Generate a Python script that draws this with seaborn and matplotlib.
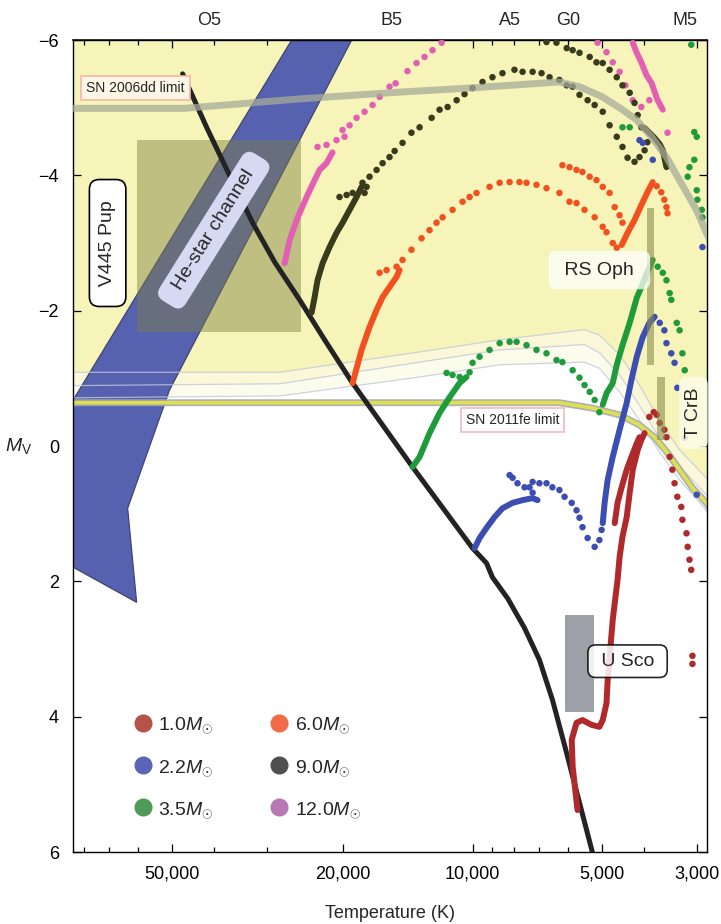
import numpy as np
import pandas as pd
import matplotlib
matplotlib.use('Agg')
import matplotlib.pyplot as plt
import seaborn as sns
from matplotlib.lines import Line2D
from matplotlib.ticker import NullFormatter, NullLocator

# ============================================================================
# DATA (temperature in K, absolute V magnitude)
# ============================================================================

# main sequence
ms_T = [47250, 41550, 36750, 32480, 28870, 25250, 22090, 19110, 13790, 10000, 9280, 8990, 8290,
        7570, 6990, 6520, 6110, 5700, 5260]
ms_M = [-5.50, -4.71, -4.00, -3.30, -2.72, -2.16, -1.57, -0.95, 0.31, 1.51, 1.73, 1.94, 2.25,
        2.69, 3.16, 3.75, 4.42, 5.16, 6.01]

# He-star channel outline
chan_T = [23600, 17390, 50660, 63420, 60440, 95000, 95000]
chan_M = [-6.5, -6.5, -0.83, 0.92, 2.31, 1.62, -0.17]

# SN limits
sn06_T = [95000, 46800, 25200, 14790, 10160, 6280, 5640, 4990, 4480, 4155, 3837, 3540, 3302, 3015, 2858, 2700]
sn06_M = [-4.99, -4.99, -5.13, -5.23, -5.29, -5.38, -5.31, -5.16, -4.97, -4.82, -4.57, -4.27, -3.93, -3.49, -3.15, -2.80]
sn11_T = [95000, 14790, 6280, 5260, 4550, 4090, 3775, 3520, 3300, 3080, 2860, 2700]
sn11_M = [-0.64, -0.64, -0.64, -0.56, -0.46, -0.31, -0.13, 0.10, 0.35, 0.62, 0.84, 1.05]

# faint detection bands
band_T = [95000, 28100, 13280, 8650, 5500, 5070, 4550, 4090, 3675, 3300, 2860, 2700]
band_L1 = [-1.09, -1.09, -1.39, -1.57, -1.72, -1.64, -1.35, -0.90, -0.38, 0.06, 0.47, 0.65]
band_L2 = [-0.89, -0.92, -1.24, -1.42, -1.50, -1.38, -1.05, -0.60, -0.12, 0.30, 0.72, 0.90]
band_L3 = [-0.71, -0.74, -1.02, -1.20, -1.24, -1.15, -0.80, -0.38, 0.09, 0.50, 0.95, 1.15]

# observed systems (T range, M range)
v445_T = [60400, 25000]
v445_M = [-4.52, -1.68]
rsoph_T = [3935, 3775]
rsoph_M = [-3.52, -1.20]
tcrb_T = [3715, 3560]
tcrb_M = [-1.02, -0.09]
usco_T = [6080, 5230]
usco_M = [2.50, 3.93]

# 12.0 Msun
m12_line1_T = [27360, 26640, 25660, 24320, 23300, 22690, 21860, 21170]
m12_line1_M = [-2.70, -3.04, -3.34, -3.68, -3.93, -4.08, -4.18, -4.34]
m12_line2_T = [4240, 4150, 4050, 3940, 3830, 3770, 3710, 3610]
m12_line2_M = [-5.96, -5.81, -5.67, -5.48, -5.36, -5.23, -5.11, -4.97]
m12_dots_T = [22940, 21860, 20720, 19850, 20060, 19320, 18610, 17830, 17080, 16450, 15600, 15100, 14170,
              13500, 12930, 12390, 11800, 5120, 4880, 4720, 4550, 4410, 4240, 4050, 3880, 3520]
m12_dots_M = [-4.42, -4.45, -4.52, -4.57, -4.67, -4.74, -4.85, -4.94, -5.04, -5.16, -5.31, -5.36, -5.54,
              -5.66, -5.75, -5.85, -5.96, -5.96, -5.82, -5.67, -5.53, -5.33, -5.11, -5.01, -5.11, -4.63]

# 9.0 Msun
m9_line1_T = [23680, 23300, 22940, 22330, 21510, 20720, 20060, 19320, 18610, 18120]
m9_line1_M = [-1.97, -2.20, -2.45, -2.70, -2.94, -3.15, -3.30, -3.49, -3.68, -3.83]
m9_line2_T = [3980, 3880, 3770, 3670, 3610, 3540]
m9_line2_M = [-4.70, -4.63, -4.55, -4.46, -4.37, -4.12]
m9_dots_T = [20390, 19630, 19010, 17830, 17640, 18030,
             17360, 16720, 16190, 15600, 15180, 14550, 13870, 13280, 12450, 11930, 11430, 10890, 10440, 10000,
             9480, 8990, 8520, 7990, 7650, 7250, 6910, 6620, 6280, 6040, 5850, 5640, 5400, 5200, 4980, 4800,
             4620, 4480, 4360, 4200, 4090, 3980, 3920,
             6730, 6380, 6040, 5850, 5640, 5340, 5150, 4980, 4800, 4620, 4480, 4310, 4200, 4130, 4050]
m9_dots_M = [-3.68, -3.71, -3.74, -3.74, -3.83, -3.89,
             -3.98, -4.08, -4.18, -4.27, -4.36, -4.48, -4.63, -4.71, -4.85, -4.97, -5.01, -5.11, -5.20, -5.29,
             -5.38, -5.45, -5.51, -5.56, -5.53, -5.53, -5.51, -5.45, -5.41, -5.33, -5.31, -5.19, -5.11, -5.04, -4.94, -4.74,
             -4.57, -4.42, -4.26, -4.20, -4.27, -4.37, -4.49,
             -5.97, -5.96, -5.88, -5.85, -5.81, -5.75, -5.67, -5.66, -5.56, -5.45, -5.33, -5.22, -5.07, -4.89, -4.71]

# 6.0 Msun
m6_line1_T = [19010, 18120, 17360, 16720, 16190, 15600, 15020, 14780]
m6_line1_M = [-0.93, -1.42, -1.76, -2.01, -2.20, -2.35, -2.50, -2.60]
m6_line2_T = [4500, 4360, 4200, 4050, 3920, 3810]
m6_line2_M = [-2.97, -3.15, -3.34, -3.56, -3.75, -3.90]
m6_dots_T = [16450, 15850, 15020, 14550,
             13870, 13140, 12590, 12130, 11740, 11130, 10550, 10160, 9790, 9130, 8650, 8200, 7780, 7490, 7100,
             6730, 6280, 5950, 5730, 5490, 5200, 4980, 4880, 4720, 4620,
             6180, 5950, 5730, 5550, 5340, 5150, 4980, 4800, 4670, 4550, 4480,
             3730, 3640, 3580, 3540, 3520]
m6_dots_M = [-2.56, -2.60, -2.65, -2.75,
             -2.90, -3.07, -3.19, -3.30, -3.38, -3.49, -3.61, -3.68, -3.74, -3.83, -3.89, -3.90, -3.90, -3.89, -3.86,
             -3.81, -3.74, -3.61, -3.59, -3.49, -3.38, -3.24, -3.16, -3.00, -2.93,
             -4.15, -4.12, -4.08, -4.05, -3.98, -3.93, -3.83, -3.74, -3.53, -3.41, -3.30,
             -3.84, -3.75, -3.64, -3.53, -3.44]

# 3.5 Msun
m35_line1_T = [13790, 13280, 12590, 11930, 11310, 10720, 10330]
m35_line1_M = [0.31, 0.16, -0.19, -0.49, -0.72, -0.93, -1.02]
m35_line2_T = [4980, 4880, 4720, 4620, 4480, 4310, 4150, 4050, 3920, 3810]
m35_line2_M = [-0.61, -0.78, -0.93, -1.20, -1.49, -1.82, -2.19, -2.35, -2.57, -2.75]
m35_dots_T = [11490, 11130, 10720, 10160,
              10000, 9630, 9130, 8650, 8200, 7900, 7490, 7100, 6730, 6380, 6180, 5850, 5640, 5490, 5340, 5200, 5070,
              3710, 3610, 3540, 3480, 3450, 3350, 3300, 3250, 3210,
              4480, 4310, 3100, 3050, 3010, 3130, 3050, 3160, 3010, 3000, 2930, 2920]
m35_dots_M = [-1.08, -1.05, -1.02, -1.09,
              -1.23, -1.32, -1.42, -1.52, -1.54, -1.54, -1.49, -1.42, -1.37, -1.27, -1.24, -1.12, -1.01, -0.90, -0.80, -0.68, -0.50,
              -2.65, -2.56, -2.45, -2.26, -2.16, -1.82, -1.71, -1.37, -1.12,
              -4.71, -4.71, -5.93, -4.64, -4.57, -4.12, -4.23, -3.98, -3.78, -3.64, -3.49, -3.38]

# 2.2 Msun
m22_line1_T = [9890, 9630, 9280, 8890, 8520, 8070, 7650, 7250, 7060]
m22_line1_M = [1.51, 1.36, 1.21, 1.05, 0.92, 0.84, 0.80, 0.77, 0.80]
m22_line2_T = [4980, 4930, 4850, 4720, 4550, 4380, 4270, 4150, 4020, 3880, 3770]
m22_line2_M = [1.14, 0.84, 0.50, 0.16, -0.24, -0.64, -0.98, -1.32, -1.61, -1.82, -1.91]
m22_dots_T = [7250, 7370, 7570, 7860, 8070, 8200,
              7250, 6990, 6730, 6520, 6280, 6110, 5880, 5730, 5640, 5550, 5400, 5200, 5070, 5010,
              3670, 3580, 3540, 3450, 3390,
              4090, 4020, 3810, 2920, 3340, 3210, 3010]
m22_dots_M = [0.69, 0.61, 0.61, 0.55, 0.47, 0.43,
              0.53, 0.55, 0.55, 0.61, 0.65, 0.75, 0.84, 0.95, 1.06, 1.20, 1.36, 1.49, 1.39, 1.24,
              -1.82, -1.71, -1.52, -1.37, -1.23,
              -4.52, -4.48, -4.23, -2.94, -0.86, -0.12, 0.72]

# 1.0 Msun
m10_line1_T = [5700, 5850, 5880, 5730, 5550, 5290, 5070, 4980, 4880, 4850, 4800, 4720, 4645, 4600, 4550,
               4480, 4380, 4310, 4240, 4130, 4050, 3980]
m10_line1_M = [5.38, 4.74, 4.34, 4.09, 4.05, 4.12, 4.15, 4.05, 3.80, 3.46, 3.12, 2.57, 2.20, 1.98, 1.64,
               1.34, 1.05, 0.69, 0.35, 0.06, -0.09, -0.19]
m10_line2_T = [4670, 4600, 4500, 4380, 4270, 4150, 4090]
m10_line2_M = [1.14, 0.84, 0.61, 0.35, 0.16, -0.04, -0.13]
m10_dots_T = [3880, 3790, 3730, 3670, 3580,
              3540, 3480, 3430, 3390, 3340, 3270, 3250, 3180, 3160, 3130, 3100,
              3080, 3080]
m10_dots_M = [-0.43, -0.50, -0.46, -0.34, -0.24,
              -0.13, 0.16, 0.35, 0.55, 0.75, 0.90, 1.09, 1.29, 1.49, 1.68, 1.83,
              3.10, 3.22]

# legend
mass_labels = ['1.0', '2.2', '3.5', '6.0', '9.0', '12.0']
legend_colors = ['#b5524a', '#5a66b5', '#4f9a58', '#f26a48', '#505050', '#b877b5']

# axes ticks
temp_ticks = [50000, 20000, 10000, 5000, 3000]
temp_labels = ['50,000', '20,000', '10,000', '5,000', '3,000']
spec_T = [41000, 15400, 8200, 6000, 3200]
spec_labels = ['O5', 'B5', 'A5', 'G0', 'M5']
mag_ticks = [-6, -4, -2, 0, 2, 4, 6]

# ============================================================================
# STYLE
# ============================================================================

sns.set_theme(style='ticks')
plt.rcParams['font.family'] = ['Liberation Sans', 'DejaVu Sans']
plt.rcParams['mathtext.fontset'] = 'custom'
plt.rcParams['mathtext.rm'] = 'Liberation Sans'
plt.rcParams['mathtext.it'] = 'Liberation Sans:italic'
plt.rcParams['mathtext.sf'] = 'Liberation Sans'

YELLOW = '#f6f4b9'
RED = '#b0292b'
BLUE = '#3c4eb1'
GREEN = '#1f9b3b'
ORANGE = '#f2501f'
OLIVE = '#393c1c'
PINK = '#e25fb4'

fig = plt.figure(figsize=(7.21, 9.24), dpi=100)
ax = fig.add_axes([0.1012, 0.0779, 0.8793, 0.8788])
ax.set_xscale('log')
ax.set_facecolor('white')

# ============================================================================
# BACKGROUND REGIONS
# ============================================================================

ax.fill_between(band_T, -6.5, band_L1, color=YELLOW, lw=0, zorder=0.5)
ax.fill_between(band_T, band_L1, band_L2, color=YELLOW, alpha=0.55, lw=0, zorder=0.5)
ax.fill_between(band_T, band_L2, band_L3, color=YELLOW, alpha=0.25, lw=0, zorder=0.5)

ax.fill(chan_T, chan_M, facecolor='#5661b0', edgecolor='#3f466e', lw=0.9, zorder=1)

for band in (band_L1, band_L2, band_L3):
    ax.plot(band_T, band, color='#c4c9da', lw=0.9, alpha=0.8, zorder=1.2)

ax.fill([v445_T[0], v445_T[1], v445_T[1], v445_T[0]], [v445_M[0], v445_M[0], v445_M[1], v445_M[1]],
        color='#7d8040', alpha=0.45, lw=0, zorder=1.5)

# SN limits
ax.plot(sn06_T, sn06_M, color='#a6ab98', lw=5, alpha=0.75, solid_capstyle='butt', zorder=3.5)
ax.plot(sn11_T, sn11_M, color='#a4a8b6', lw=5, alpha=0.9, zorder=2.2)
ax.plot(sn11_T, sn11_M, color='#dfe04a', lw=2.6, zorder=2.3)

# main sequence
sns.lineplot(x=ms_T, y=ms_M, sort=False, estimator=None, color='#232323', lw=3.6, ax=ax, zorder=2.5)

# ============================================================================
# TRACKS
# ============================================================================

def draw_track(lines, dots_T, dots_M, color):
    for lt, lm in lines:
        sns.lineplot(x=lt, y=lm, sort=False, estimator=None, color=color, lw=4.3,
                     solid_capstyle='round', ax=ax, zorder=3)
    sns.scatterplot(x=dots_T, y=dots_M, color=color, s=22, edgecolor='none', ax=ax,
                    zorder=3, legend=False)

draw_track([(m12_line1_T, m12_line1_M), (m12_line2_T, m12_line2_M)], m12_dots_T, m12_dots_M, PINK)
draw_track([(m9_line1_T, m9_line1_M), (m9_line2_T, m9_line2_M)], m9_dots_T, m9_dots_M, OLIVE)
draw_track([(m6_line1_T, m6_line1_M), (m6_line2_T, m6_line2_M)], m6_dots_T, m6_dots_M, ORANGE)
draw_track([(m35_line1_T, m35_line1_M), (m35_line2_T, m35_line2_M)], m35_dots_T, m35_dots_M, GREEN)
draw_track([(m22_line1_T, m22_line1_M), (m22_line2_T, m22_line2_M)], m22_dots_T, m22_dots_M, BLUE)
draw_track([(m10_line1_T, m10_line1_M), (m10_line2_T, m10_line2_M)], m10_dots_T, m10_dots_M, RED)

# observed systems bars
for bt, bm in ((rsoph_T, rsoph_M), (tcrb_T, tcrb_M)):
    ax.fill([bt[0], bt[1], bt[1], bt[0]], [bm[0], bm[0], bm[1], bm[1]],
            color='#8a8d4c', alpha=0.6, lw=0, zorder=4)
ax.fill([usco_T[0], usco_T[1], usco_T[1], usco_T[0]], [usco_M[0], usco_M[0], usco_M[1], usco_M[1]],
        color='#9da0a7', lw=0, zorder=4)

# ============================================================================
# LABELS
# ============================================================================

ax.text(60800, -5.29, 'SN 2006dd limit', fontsize=10, ha='center', va='center', zorder=6,
        bbox=dict(boxstyle='square,pad=0.35', fc='#fdf6e6', ec='#f0b9a8', lw=1.2))
ax.text(8070, -0.38, 'SN 2011fe limit', fontsize=10, ha='center', va='center', zorder=6,
        bbox=dict(boxstyle='square,pad=0.35', fc='white', ec='#f3b8bf', lw=1.2))
ax.text(70600, -3.0, '  V445 Pup  ', fontsize=14, rotation=90, ha='center', va='center', zorder=6,
        bbox=dict(boxstyle='round,pad=0.5,rounding_size=0.5', fc='white', ec='black', lw=1.2))
ax.text(40000, -3.19, '  He-star channel  ', fontsize=14, rotation=58, ha='center', va='center',
        rotation_mode='anchor', zorder=6,
        bbox=dict(boxstyle='round,pad=0.35,rounding_size=0.5', fc='#d6d9f1', ec='none'))
ax.text(5070, -2.60, ' RS Oph ', fontsize=14, ha='center', va='center', zorder=6,
        bbox=dict(boxstyle='round,pad=0.55,rounding_size=0.4', fc='white', ec='none', alpha=0.75))
ax.text(3064, -0.49, ' T CrB ', fontsize=14, rotation=90, ha='center', va='center', zorder=6,
        bbox=dict(boxstyle='round,pad=0.3,rounding_size=0.4', fc='#fdfde8', ec='none', alpha=0.85))
ax.text(4360, 3.18, ' U Sco ', fontsize=14, ha='center', va='center', zorder=6,
        bbox=dict(boxstyle='round,pad=0.4,rounding_size=0.4', fc='white', ec='black', lw=1.2, alpha=0.85))

handles = [Line2D([], [], marker='o', ls='', color=c, markersize=12) for c in legend_colors]
labels = [m + r'$M_{\odot}$' for m in mass_labels]
ax.legend(handles, labels, ncol=2, loc='upper left', bbox_to_anchor=(0.064, 0.19), frameon=False,
          fontsize=14, labelspacing=1.15, columnspacing=2.8, handletextpad=0.2, handlelength=1.2)

# ============================================================================
# AXES
# ============================================================================

ax.set_xlim(85000, 2850)
ax.set_ylim(6, -6)
ax.set_xticks(temp_ticks, temp_labels)
ax.xaxis.set_minor_formatter(NullFormatter())
ax.set_yticks(mag_ticks)
ax.tick_params(which='both', direction='in', top=True, right=True, colors='black', labelsize=13, width=0.9)
ax.tick_params(which='major', length=6, pad=10)
ax.tick_params(which='minor', length=3.5)
for sp in ax.spines.values():
    sp.set_color('black')
    sp.set_linewidth(1.0)

sec = ax.secondary_xaxis('top')
sec.set_xticks(spec_T, spec_labels)
sec.xaxis.set_minor_locator(NullLocator())
sec.tick_params(direction='in', length=6, labelsize=13, pad=8, width=0.9)

ax.set_xlabel('Temperature (K)', fontsize=13, labelpad=16)
ax.set_ylabel(r'$M_{\mathrm{V}}$', fontsize=14, rotation=0, va='center')
ax.yaxis.set_label_coords(-0.085, 0.5)

fig.savefig('out.png', dpi=100)
